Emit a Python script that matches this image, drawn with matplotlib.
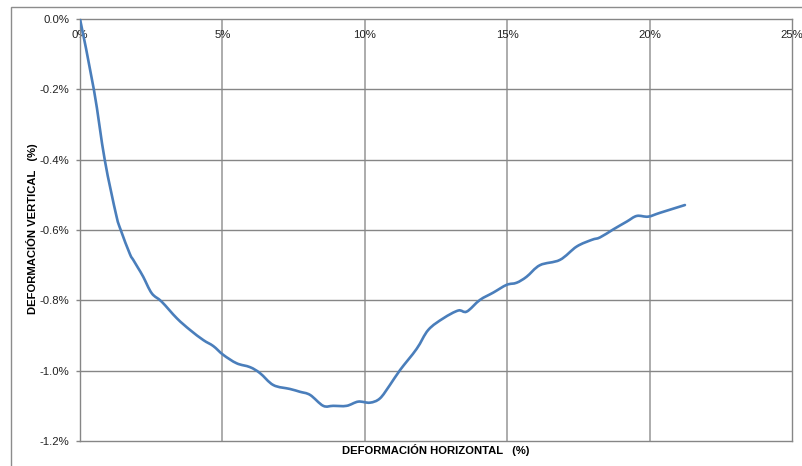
import matplotlib
matplotlib.use("Agg")
import matplotlib.pyplot as plt
from matplotlib.patches import Rectangle, PathPatch
from matplotlib.path import Path
from matplotlib.ticker import FuncFormatter, MultipleLocator

plt.rcParams['font.family'] = ['Liberation Sans', 'DejaVu Sans']

# Data (percent)
horizontal = [0.00, 0.49, 0.87, 1.27, 1.43, 1.75, 1.87, 2.04, 2.22, 2.52, 2.87,
              3.40, 3.86, 4.33, 4.68, 5.03, 5.50, 5.97, 6.32, 6.79, 7.37, 7.72, 8.08,
              8.54, 8.89, 9.36, 9.77, 10.18, 10.53, 10.88, 11.24, 11.82, 12.23, 12.76,
              13.28, 13.58, 14.04, 14.51, 14.98, 15.33, 15.68, 16.15, 16.85, 17.44,
              17.97, 18.26, 18.73, 19.20, 19.55, 19.95, 20.37, 21.24]
vertical = [0.000, -0.202, -0.401, -0.557, -0.600, -0.668, -0.685, -0.708,
            -0.733, -0.780, -0.804, -0.851, -0.884, -0.913, -0.930, -0.955, -0.979,
            -0.990, -1.007, -1.041, -1.052, -1.060, -1.069, -1.100, -1.100, -1.100,
            -1.088, -1.091, -1.079, -1.041, -0.998, -0.938, -0.884, -0.851, -0.829,
            -0.832, -0.799, -0.778, -0.756, -0.750, -0.733, -0.700, -0.685, -0.647,
            -0.628, -0.621, -0.598, -0.576, -0.560, -0.562, -0.551, -0.529]

W, H = 802, 466
fig = plt.figure(figsize=(W / 100, H / 100), dpi=100)
fig.patches.append(Rectangle((11 / W, -0.1), 1.2, 1.1 - 7 / H, transform=fig.transFigure,
                             fill=False, edgecolor='#8c8c8c', linewidth=1.0))
ax = fig.add_axes([80 / W, (H - 441) / H, (792 - 80) / W, (441 - 19) / H])

# Smoothed line (Excel-style smoothing) as cubic Bezier path through the data points
pts = list(zip(horizontal, vertical))
n = len(pts)
verts = [pts[0]]
codes = [Path.MOVETO]
for i in range(n - 1):
    p0 = pts[i - 1] if i > 0 else pts[i]
    p1 = pts[i]
    p2 = pts[i + 1]
    p3 = pts[i + 2] if i + 2 < n else pts[i + 1]
    c1 = (p1[0] + (p2[0] - p0[0]) / 6, p1[1] + (p2[1] - p0[1]) / 6)
    c2 = (p2[0] - (p3[0] - p1[0]) / 6, p2[1] - (p3[1] - p1[1]) / 6)
    verts += [c1, c2, p2]
    codes += [Path.CURVE4, Path.CURVE4, Path.CURVE4]
ax.add_patch(PathPatch(Path(verts, codes), fill=False, edgecolor='#4A7EBB',
                       linewidth=1.9, joinstyle='round', capstyle='round', zorder=3))

ax.set_xlim(0, 25)
ax.set_ylim(-1.2, 0)
ax.xaxis.set_major_locator(MultipleLocator(5))
ax.yaxis.set_major_locator(MultipleLocator(0.2))
ax.xaxis.set_major_formatter(FuncFormatter(lambda v, p: f"{v:.0f}%"))
ax.yaxis.set_major_formatter(FuncFormatter(lambda v, p: f"{v:.1f}%" if abs(v) > 1e-9 else "0.0%"))

for x in [5, 10, 15, 20]:
    ax.axvline(x, color='#a6a6a6', linewidth=1.3, zorder=0)
for y in [-0.2, -0.4, -0.6, -0.8, -1.0]:
    ax.axhline(y, color='#868686', linewidth=1.0, zorder=0)

for s in ax.spines.values():
    s.set_color('#868686')
    s.set_linewidth(1.0)

ax.xaxis.tick_top()
ax.tick_params(axis='x', top=True, bottom=False, labeltop=True, labelbottom=False,
               length=0, pad=-15, labelsize=8.2, labelcolor='#222222')
ax.tick_params(axis='y', direction='out', length=3, width=1.0, color='#868686',
               pad=4.5, labelsize=8.2, labelcolor='#222222')

fig.text(436 / W, 1 - 450 / H, "DEFORMACIÓN HORIZONTAL   (%)", ha='center', va='center',
         fontsize=8.1, fontweight='bold')
fig.text(32 / W, 1 - 229 / H, "DEFORMACIÓN VERTICAL   (%)", ha='center', va='center',
         rotation=90, fontsize=8.1, fontweight='bold')

fig.savefig("out.png", dpi=100)
